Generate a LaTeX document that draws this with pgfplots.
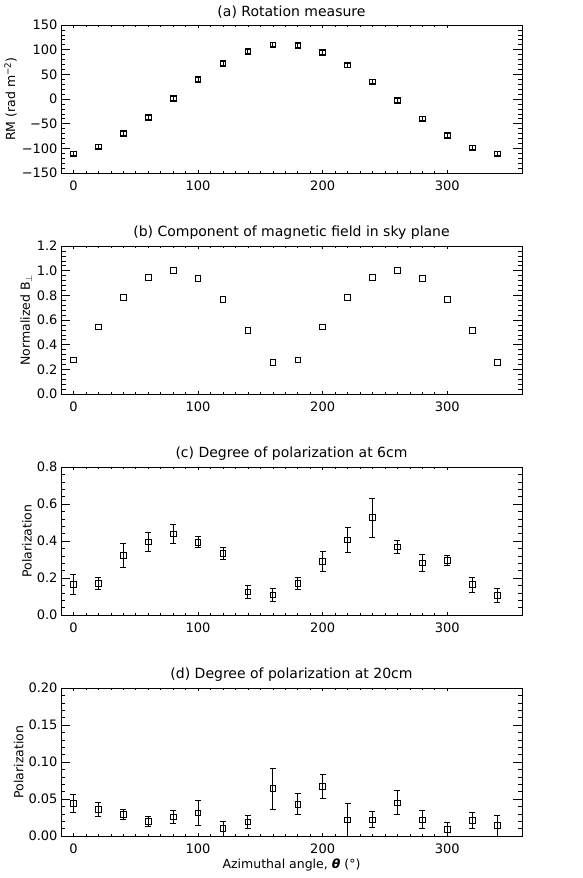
\documentclass[border=0pt]{standalone}
\usepackage{fontspec}
\setmainfont{DejaVu Sans}
\usepackage{pgfplots}
\usepackage{pgfplotstable}
\pgfplotsset{compat=1.18}

% RM per azimuthal angle
\pgfplotstableread{
x y e
0 -111 4
20 -97 4
40 -70 4
60 -37 4
80 1 4
100 40 4
120 72 4
140 97 4
160 110 4
180 109 4
200 95 4
220 69 4
240 35 4
260 -3 4
280 -40 4
300 -74 4
320 -99 4
340 -111 4
}\tabrm

% normalized B perp
\pgfplotstableread{
x y
0 0.278
20 0.544
40 0.785
60 0.946
80 1.000
100 0.938
120 0.766
140 0.517
160 0.256
180 0.278
200 0.544
220 0.785
240 0.946
260 1.000
280 0.938
300 0.766
320 0.517
340 0.256
}\tabb

% polarization 6cm
\pgfplotstableread{
x y e
0 0.164 0.055
20 0.170 0.031
40 0.321 0.064
60 0.396 0.053
80 0.439 0.052
100 0.393 0.030
120 0.332 0.031
140 0.125 0.035
160 0.109 0.034
180 0.170 0.031
200 0.289 0.054
220 0.407 0.067
240 0.527 0.105
260 0.368 0.034
280 0.282 0.045
300 0.296 0.028
320 0.164 0.040
340 0.105 0.037
}\tabsix

% polarization 20cm
\pgfplotstableread{
x y e
0 0.044 0.012
20 0.036 0.009
40 0.029 0.007
60 0.020 0.007
80 0.026 0.009
100 0.031 0.017
120 0.010 0.010
140 0.019 0.009
160 0.064 0.028
180 0.043 0.014
200 0.067 0.016
220 0.022 0.022
240 0.022 0.011
260 0.045 0.016
280 0.022 0.012
300 0.009 0.009
320 0.021 0.011
340 0.014 0.014
}\tabtwenty

\pgfplotsset{
  frame/.style={
    scale only axis, width=461pt, height=148pt,
    anchor=north west,
    xmin=-10, xmax=360,
    xtick={0,100,200,300}, minor x tick num=9,
    tick align=inside,
    axis line style={line width=0.9pt},
    every tick/.style={black, line width=0.6pt},
  },
  idl/.style={
    frame,
    major tick length=9pt, minor tick length=4.5pt,
    xtick style={draw=none},
    minor y tick num=4,
    /pgf/number format/assume math mode=true,
    tick label style={font=\fontsize{13}{15}\selectfont},
    xticklabel style={yshift=-4pt},
    label style={font=\fontsize{12.5}{15}\selectfont},
    title style={font=\fontsize{14}{16}\selectfont, yshift=-3pt},
    ylabel style={yshift=-2pt},
  },
  % second pass: only the short x ticks
  xt/.style={
    frame,
    ymin=0, ymax=1, ytick=\empty, xticklabels={},
    major tick length=3pt, minor tick length=1.8pt,
  },
  pts/.style={black, only marks, mark=square, mark size=2.8pt,
    mark options={line width=0.75pt}},
  ebar/.style={error bars/.cd, y dir=both, y explicit,
    error bar style={line width=0.85pt, black},
    error mark options={rotate=90, mark size=3pt, line width=0.85pt, black}},
}

\begin{document}
\begin{tikzpicture}
\useasboundingbox (-61pt,25pt) rectangle (521pt,-853pt);

\begin{axis}[idl, at={(0,0)},
  title={(a) Rotation measure},
  ymin=-150, ymax=150,
  ytick={-150,-100,-50,0,50,100,150},
  yticklabels={−150,−100,−50,0,50,100,150},
  ylabel={RM (rad m\textsuperscript{−2})}]
\addplot+[pts, ebar] table[x=x, y=y, y error=e] {\tabrm};
\end{axis}
\begin{axis}[xt, at={(0,0)}]\end{axis}

\begin{axis}[idl, at={(0,-221pt)},
  title={(b) Component of magnetic field in sky plane},
  ymin=0, ymax=1.2,
  ytick={0,0.2,...,1.2},
  yticklabel style={/pgf/number format/.cd, fixed, fixed zerofill, precision=1},
  ylabel={Normalized B$_\perp$}]
\addplot+[pts] table[x=x, y=y] {\tabb};
\end{axis}
\begin{axis}[xt, at={(0,-221pt)}]\end{axis}

\begin{axis}[idl, at={(0,-442pt)},
  title={(c) Degree of polarization at 6cm},
  ymin=0, ymax=0.8,
  ytick={0,0.2,...,0.8},
  yticklabel style={/pgf/number format/.cd, fixed, fixed zerofill, precision=1},
  ylabel={Polarization}]
\addplot+[pts, ebar] table[x=x, y=y, y error=e] {\tabsix};
\end{axis}
\begin{axis}[xt, at={(0,-442pt)}]\end{axis}

\begin{axis}[idl, at={(0,-663pt)},
  title={(d) Degree of polarization at 20cm},
  ymin=0, ymax=0.2,
  ytick={0,0.05,0.1,0.15,0.2},
  yticklabel style={/pgf/number format/.cd, fixed, fixed zerofill, precision=2},
  ylabel={Polarization},
  xlabel={Azimuthal angle, \textbf{\textit{θ}} (°)},
  xlabel style={yshift=1pt}]
\addplot+[pts, ebar] table[x=x, y=y, y error=e] {\tabtwenty};
\end{axis}
\begin{axis}[xt, at={(0,-663pt)}]\end{axis}

\end{tikzpicture}
\end{document}
